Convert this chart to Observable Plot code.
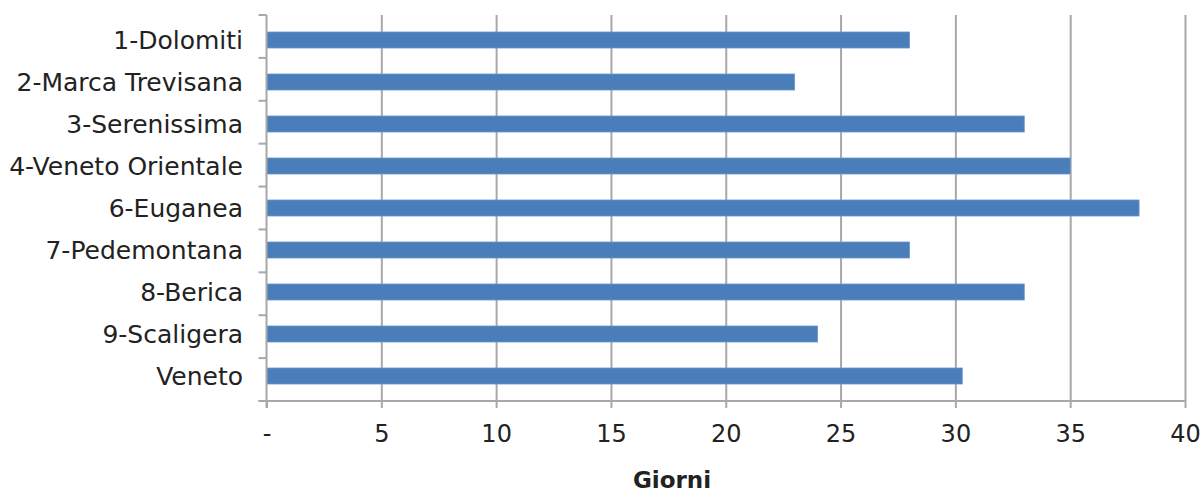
<!DOCTYPE html>
<html>
<head>
<meta charset="utf-8">
<script src="https://cdn.jsdelivr.net/npm/d3@7"></script>
<script src="https://cdn.jsdelivr.net/npm/@observablehq/plot@0.6"></script>
<style>
  html, body { margin: 0; padding: 0; background: #fff; }
  #chart { width: 1203px; height: 455px; }
  #xlabel { font-family: "DejaVu Sans", Verdana, sans-serif; font-weight: bold; font-size: 23px; color: #222;
            width: 1203px; position: relative; height: 38px; }
  #xlabel span { position: absolute; left: 672px; transform: translateX(-50%); top: 12px; }
</style>
</head>
<body>
<div id="chart"></div>
<div id="xlabel"><span>Giorni</span></div>
<script>
const categories = ["1-Dolomiti", "2-Marca Trevisana", "3-Serenissima", "4-Veneto Orientale", "6-Euganea", "7-Pedemontana", "8-Berica", "9-Scaligera", "Veneto"];
const giorni = [28, 23, 33, 35, 38, 28, 33, 24, 30.3];
const xTicks = [0, 5, 10, 15, 20, 25, 30, 35, 40];
const xLabel = "Giorni";

const data = categories.map((c, i) => ({ cat: c, val: giorni[i] }));

const W = 1203, H = 455, mL = 266.5, mR = 18, mT = 15, mB = H - 401;
const gray = "#a8a8a8";
const fmt = d => d === 0 ? "-" : String(d);

function axisLines(index, scales, values, dims) {
  const g = d3.create("svg:g");
  const n = categories.length;
  const top = dims.marginTop, bottom = dims.height - dims.marginBottom;
  const step = (bottom - top) / n;
  const x0 = scales.x(0), x1 = scales.x(40);
  g.append("line").attr("x1", x0).attr("x2", x0).attr("y1", top).attr("y2", bottom + 7)
    .attr("stroke", gray).attr("stroke-width", 2);
  g.append("line").attr("x1", x0 - 8).attr("x2", x1).attr("y1", bottom).attr("y2", bottom)
    .attr("stroke", gray).attr("stroke-width", 2);
  for (let i = 0; i <= n; i++) {
    const y = top + i * step;
    g.append("line").attr("x1", x0 - 8).attr("x2", x0).attr("y1", y).attr("y2", y)
      .attr("stroke", gray).attr("stroke-width", 2);
  }
  return g.node();
}

const plot = Plot.plot({
  width: W,
  height: H,
  marginLeft: mL,
  marginRight: mR,
  marginTop: mT,
  marginBottom: mB,
  style: { fontFamily: "'DejaVu Sans', Verdana, sans-serif", fontSize: "24px", color: "#222", background: "#fff" },
  x: { domain: [0, 40], ticks: xTicks, label: null, tickFormat: fmt },
  y: { domain: categories, paddingInner: 0.63, paddingOuter: 0.315, label: null },
  marks: [
    Plot.gridX(xTicks.filter(d => d > 0), { stroke: gray, strokeOpacity: 1, strokeWidth: 2 }),
    Plot.barX(data, { x: "val", y: "cat", fill: "#4a7ebb", stroke: "#6a95cc", strokeWidth: 0.8 }),
    Plot.axisX(xTicks, { tickSize: 7, tickPadding: 16, stroke: gray, strokeWidth: 2, fill: "#222", fontSize: 24, tickFormat: fmt, label: null }),
    Plot.axisY({ tickSize: 0, tickPadding: 24, fill: "#222", fontSize: 25, label: null }),
    axisLines
  ]
});
document.getElementById("chart").appendChild(plot);
</script>
</body>
</html>
